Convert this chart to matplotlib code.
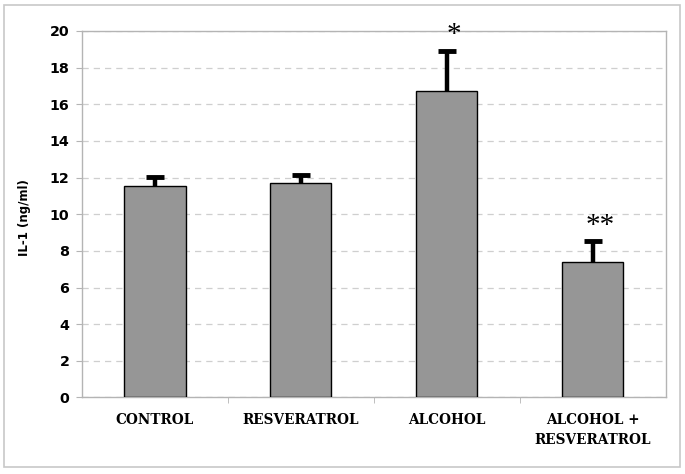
import matplotlib
matplotlib.use("Agg")
import matplotlib.pyplot as plt
from matplotlib.patches import Rectangle

groups = ["CONTROL", "RESVERATROL", "ALCOHOL", "ALCOHOL +\nRESVERATROL"]
il1_mean = [11.55, 11.68, 16.73, 7.42]
il1_err = [0.48, 0.47, 2.2, 1.1]
marks = ["", "", "*", "**"]

fig = plt.figure(figsize=(6.85, 4.74), dpi=100)
fig.patches.append(Rectangle((0.006, 0.014), 0.986, 0.976, transform=fig.transFigure,
                             fill=False, edgecolor="#c8c8c8", linewidth=1.2))
ax = fig.add_axes([0.1197, 0.1614, 0.852, 0.7732])

x = range(len(groups))
ax.bar(x, il1_mean, width=0.42, color="#969696", edgecolor="black", linewidth=1.0, zorder=3)
_, caps, _ = ax.errorbar(x, il1_mean, yerr=[[0] * len(il1_err), il1_err], fmt="none",
                         ecolor="black", elinewidth=3.2, capsize=6.5, capthick=3.5, zorder=4)
caps[0].set_visible(False)  # upper cap only

ax.set_xlim(-0.5, 3.5)
ax.set_ylim(0, 20)
ax.set_yticks(range(0, 21, 2))
ax.yaxis.grid(True, linestyle=(0, (5, 4)), color="#cfcfcf", linewidth=0.9, zorder=0)
for s in ax.spines.values():
    s.set_color("#b4b4b4")
    s.set_linewidth(1.0)

ax.set_xticks(list(x))
ax.set_xticklabels(groups, family="DejaVu Serif", fontweight="bold", fontsize=9.8,
                   linespacing=1.55)
ax.set_xticks([0.5, 1.5, 2.5], minor=True)
ax.tick_params(axis="x", which="major", length=0, pad=11)
ax.tick_params(axis="x", which="minor", length=4, color="#b4b4b4")
ax.tick_params(axis="y", length=4, color="#b4b4b4", labelsize=10.3, pad=5)
for t in ax.get_yticklabels():
    t.set_fontweight("bold")
    t.set_family("DejaVu Sans")
ax.set_ylabel("IL-1 (ng/ml)", fontsize=8.5, fontweight="bold", family="DejaVu Sans")
ax.yaxis.set_label_coords(-0.088, 0.49)

for i, m in enumerate(marks):
    if not m:
        continue
    top = il1_mean[i] + il1_err[i]
    if top + 1.0 > 20:
        # star sits right on the top edge, mostly hidden
        ax.text(i, 20.0, m, ha="center", va="center", fontsize=6,
                color="black", fontweight="bold",
                bbox=dict(facecolor="white", edgecolor="none", pad=6), zorder=5)
    else:
        ax.text(i + 0.05, top + 0.15, m, ha="center", va="bottom", fontsize=21,
                family="Liberation Serif", zorder=5)

fig.savefig("out.png", dpi=100)
